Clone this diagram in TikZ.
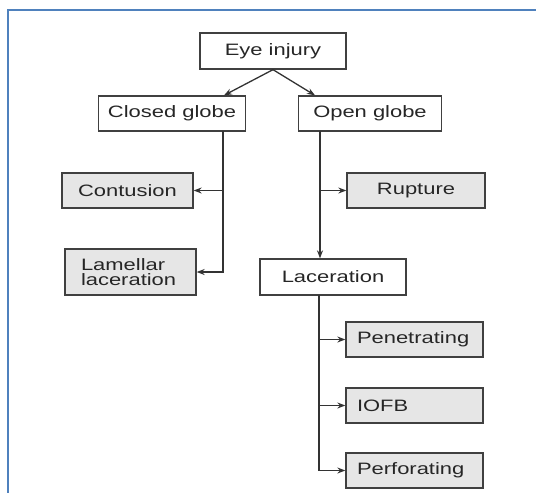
\documentclass[tikz,border=0pt]{standalone}
\usepackage{fontspec}
\setmainfont{Liberation Sans}[FakeStretch=1.33]
\usetikzlibrary{arrows.meta}
\definecolor{frameblue}{RGB}{79,129,189}
\definecolor{boxgrey}{RGB}{230,230,230}
\tikzset{
  plainbox/.style={draw=black!75, line width=1.3pt, fill=white, inner sep=0pt,
    minimum height=35pt, text=black!85, font=\fontsize{16.5}{15.5}\selectfont},
  greybox/.style={plainbox, fill=boxgrey},
  leftbox/.style={greybox, inner xsep=11pt, text width=115pt, align=left},
  trunk/.style={draw=black!80, line width=1.3pt},
  link/.style={trunk, -{Stealth[length=8pt,width=6pt]}}
}

\begin{document}
\begin{tikzpicture}[x=1pt,y=-1pt]
        \useasboundingbox (0,0) rectangle (536,493);
        \draw[frameblue, line width=2pt] (7.5,493) -- (7.5,10) -- (536,10);

        % top levels
        \node[plainbox, minimum width=146pt, minimum height=36pt] (eye) at (273,51) {Eye injury};
        \node[plainbox, minimum width=147pt] (closed) at (172,113.5) {Closed globe};
        \node[plainbox, minimum width=143pt] (open) at (370,113.5) {Open globe};

        % closed globe side
        \node[greybox, minimum width=131pt] (contusion) at (127.5,190.5) {Contusion};
        \node[greybox, minimum height=46pt, inner xsep=16pt, text width=99pt, align=left]
            (lamellar) at (130.5,272) {Lamellar\\laceration};

        % open globe side
        \node[greybox, minimum width=138pt] (rupture) at (416,190.5) {Rupture};
        \node[plainbox, minimum width=146pt, minimum height=36pt] (laceration) at (333,277) {Laceration};
        \node[leftbox] (penetrating) at (414.5,339.5) {Penetrating};
        \node[leftbox] (iofb) at (414.5,405.5) {IOFB};
        \node[leftbox] (perforating) at (414.5,470.5) {Perforating};

        \coordinate (cgtrunk) at (223,131);
        \coordinate (ogtrunk) at (320,131);
        \coordinate (lctrunk) at (319,295);

        \draw[link] (eye.south) -- ([xshift=52pt]closed.north);
        \draw[link] (eye.south) -- ([xshift=-55pt]open.north);

        \draw[trunk] (cgtrunk) -- (cgtrunk |- contusion);
        \draw[link] (cgtrunk |- contusion) -- (contusion);
        \draw[link] (cgtrunk |- contusion) |- (lamellar);

        \draw[link] (ogtrunk) -- (ogtrunk |- laceration.north);
        \draw[link] (ogtrunk |- rupture) -- (rupture);

        \draw[trunk] (lctrunk) -- (lctrunk |- iofb);
        \draw[link] (lctrunk |- penetrating) -- (penetrating);
        \draw[link] (lctrunk |- iofb) -- (iofb);
        \draw[link] (lctrunk |- iofb) |- (perforating);
    \end{tikzpicture}
\end{document}
